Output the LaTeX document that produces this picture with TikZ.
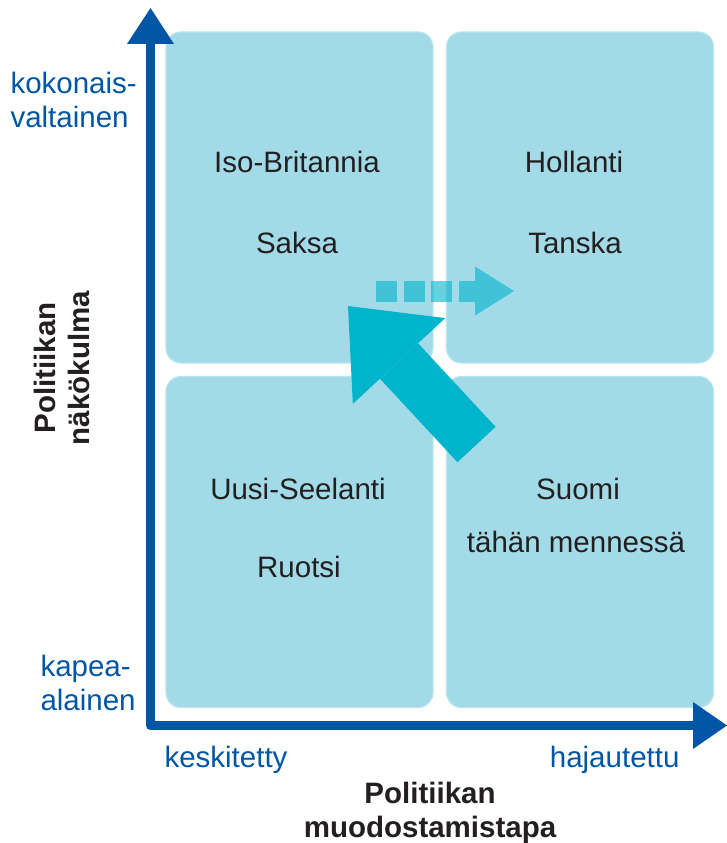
\documentclass[tikz,border=0pt]{standalone}
\usepackage{fontspec}
\setmainfont{Liberation Sans}
\usetikzlibrary{arrows.meta, positioning}
\definecolor{axisblue}{HTML}{0055A5}
\definecolor{quadfill}{HTML}{A2DBE7}
\definecolor{quadline}{HTML}{B8E5EE}
\definecolor{shiftcyan}{HTML}{00B4CC}
\definecolor{textgray}{HTML}{231F20}
\tikzset{
    quad/.style={draw=quadline, line width=1.2pt, fill=quadfill, rounded corners=15pt,
        minimum width=267pt, minimum height=331pt}, % the four fields
    country/.style={anchor=base, text=textgray, font=\fontsize{29.5}{34}\selectfont},
    axislabel/.style={text=axisblue, font=\fontsize{29.5}{34}\selectfont, align=left},
    axistitle/.style={anchor=base, text=textgray, align=center,
        font=\bfseries\fontsize{29.5}{34}\selectfont},
    axis/.style={draw=axisblue, line width=9pt, line join=round,
        {Triangle[length=36pt,width=47pt,line width=0pt]}-{Triangle[length=34pt,width=47pt,line width=0pt]}},
    shiftarrow/.style={draw=shiftcyan, line width=52pt,
        -{Triangle[length=75pt,width=126pt,line width=0pt]}}, % the big move
    trendarrow/.style={draw=shiftcyan, opacity=0.6, line width=21pt, dash pattern=on 21pt off 6.5pt,
        -{Triangle[length=39pt,width=49pt,line width=0pt]}}, % the dashed one
}

\begin{document}
\begin{tikzpicture}[x=1pt, y=-1pt]
    \useasboundingbox (0,0) rectangle (727,843);

    % fields
    \node[quad] (nw) at (299.5,197.5) {};
    \node[quad] (ne) at (580,197.5) {};
    \node[quad] (sw) at (299.5,542) {};
    \node[quad] (se) at (580,542) {};

    \node[country] (uk) at (297,172) {Iso-Britannia};
    \node[country] (de) at (297,253) {Saksa};
    \node[country] (nl) at (574,172) {Hollanti};
    \node[country] (dk) at (575,253) {Tanska};
    \node[country] (nz) at (298,499) {Uusi-Seelanti};
    \node[country] (se1) at (299,577) {Ruotsi};
    \node[country] (fi) at (578,499) {Suomi};
    \node[country] (fi2) at (576,552) {tähän mennessä};

    % arrows
    \coordinate (trendstart) at (376,291);
    \coordinate (trendend) at (514,291);
    \draw[trendarrow] (trendstart) -- (trendend);
    \coordinate (shifttail) at (476.5,444.5);
    \coordinate (shifttip) at (348,306);
    \draw[shiftarrow] (shifttail) -- (shifttip);

    % axes
    \coordinate (origin) at (150.5,725.5);
    \coordinate (ytip) at (150.5,8);
    \coordinate (xtip) at (727,725.5);
    \draw[axis] (ytip) -- (origin) -- (xtip);

    \node[axislabel, anchor=base west] (whole) at (7,127) {kokonais-\\valtainen};
    \node[axislabel, anchor=base west] (narrow) at (37,710) {kapea-\\alainen};
    \node[axislabel, anchor=base west] (central) at (161,767) {keskitetty};
    \node[axislabel, anchor=base east] (spread) at (683,767) {hajautettu};
    \node[axistitle] (xtitle) at (430,837) {Politiikan\\muodostamistapa};
    \node[axistitle, rotate=90] (ytitle) at (89,368) {Politiikan\\näkökulma};
\end{tikzpicture}
\end{document}
